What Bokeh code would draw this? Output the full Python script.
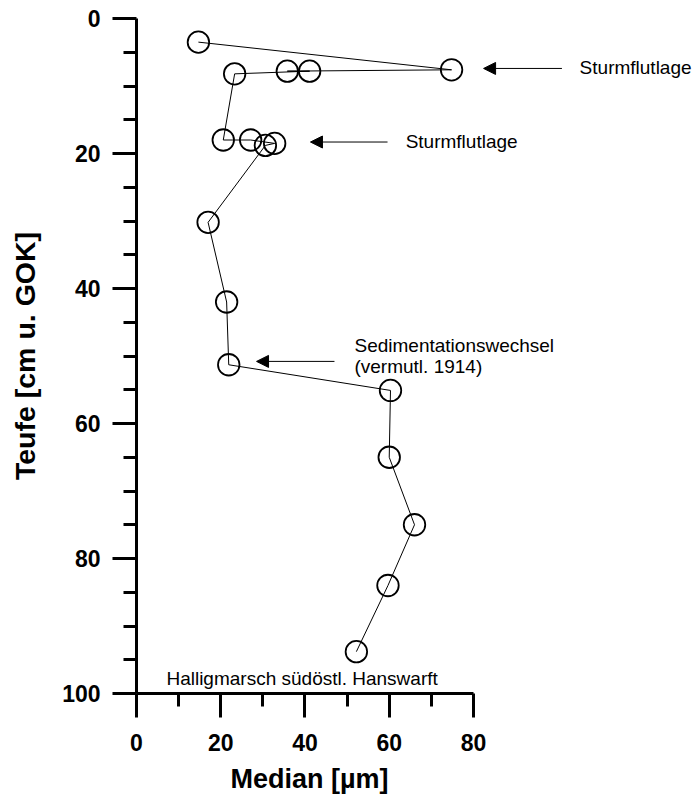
from bokeh.plotting import figure
from bokeh.models import (ColumnDataSource, Range1d, FixedTicker, Arrow, NormalHead, AllLabels)
from bokeh.core.properties import value
from bokeh.embed import file_html
from bokeh.resources import INLINE

# Data
median_um = [14.7, 74.8, 35.8, 41.1, 23.3, 20.6, 27.1, 32.8, 30.6, 17.0,
             21.4, 21.9, 60.3, 60.0, 66.0, 59.7, 52.2]
depth_cm = [3.5, 7.6, 7.8, 7.8, 8.2, 18.0, 18.0, 18.5, 18.8, 30.2,
            42.0, 51.3, 55.1, 65.0, 75.0, 84.0, 93.8]

x_ticks = [0, 20, 40, 60, 80]
x_minor = [10, 30, 50, 70]
y_ticks = [0, 20, 40, 60, 80, 100]
y_minor = [5, 10, 15, 25, 30, 35, 45, 50, 55, 65, 70, 75, 85, 90, 95]

x_title = "Median [µm]"
y_title = "Teufe [cm u. GOK]"

# annotations
ann_text = ["Sturmflutlage", "Sturmflutlage", "Sedimentationswechsel",
            "(vermutl. 1914)", "Halligmarsch südöstl. Hanswarft"]
ann_x = [105.2, 63.9, 51.75, 51.75, 7.1]
ann_y = [7.2, 18.2, 48.5, 51.6, 97.8]
arrow_tail_x = [101.0, 59.6, 47.0]
arrow_tip_x = [82.4, 41.3, 28.5]
arrow_y = [7.4, 18.3, 50.8]

FONT = "Liberation Sans"

p = figure(width=692, height=798, output_backend="svg", toolbar_location=None,
           x_range=Range1d(0, 132.0), y_range=Range1d(100, 0),
           min_border_left=136, min_border_right=0, min_border_top=18,
           min_border_bottom=105)
p.background_fill_color = "white"
p.border_fill_color = "white"
p.outline_line_color = None
p.xgrid.visible = False
p.ygrid.visible = False

src = ColumnDataSource(dict(x=median_um, y=depth_cm))
p.line("x", "y", source=src, line_color="black", line_width=1)
p.scatter("x", "y", source=src, marker="circle", size=21.5, fill_color=None,
          line_color="black", line_width=1.8)

for i in range(len(arrow_y)):
    p.add_layout(Arrow(end=NormalHead(size=12, line_color="black", fill_color="black",
                                      line_width=1),
                       x_start=arrow_tail_x[i], y_start=arrow_y[i],
                       x_end=arrow_tip_x[i], y_end=arrow_y[i],
                       line_color="black", line_width=1))

tsrc = ColumnDataSource(dict(x=ann_x, y=ann_y, t=ann_text))
p.text("x", "y", text="t", source=tsrc, text_font=value(FONT),
       text_font_size="19px", text_align="left", text_baseline="middle",
       text_color="black")

# X axis (the axis line spans 0-80; the frame continues to the right for the notes)
xa = p.xaxis[0]
xa.ticker = FixedTicker(ticks=x_ticks, minor_ticks=x_minor)
xa.bounds = (0, 80)
xa.major_label_policy = AllLabels()
# the axis title is centred on the whole frame; trailing no-break spaces move the
# visible words back under the 0-80 part of the axis
xa.axis_label = x_title + "\u00a0" * 28
xa.axis_label_text_font = FONT
xa.axis_label_text_font_style = "bold"
xa.axis_label_text_font_size = "27px"
xa.axis_label_text_color = "black"
xa.axis_label_standoff = 10
xa.major_label_text_font = FONT
xa.major_label_text_font_style = "bold"
xa.major_label_text_font_size = "23px"
xa.major_label_text_color = "black"
xa.major_label_standoff = 16
xa.axis_line_width = 3
xa.axis_line_color = "black"
xa.major_tick_line_width = 3
xa.minor_tick_line_width = 3
xa.major_tick_in = 0
xa.major_tick_out = 24
xa.minor_tick_in = 0
xa.minor_tick_out = 13

# Y axis
ya = p.yaxis[0]
ya.ticker = FixedTicker(ticks=y_ticks, minor_ticks=y_minor)
ya.bounds = (0, 100)
ya.major_label_policy = AllLabels()
ya.axis_label = y_title
ya.axis_label_text_font = FONT
ya.axis_label_text_font_style = "bold"
ya.axis_label_text_font_size = "28.5px"
ya.axis_label_text_color = "black"
ya.axis_label_standoff = 18
ya.major_label_text_font = FONT
ya.major_label_text_font_style = "bold"
ya.major_label_text_font_size = "23px"
ya.major_label_text_color = "black"
ya.major_label_standoff = 12
ya.axis_line_width = 3
ya.axis_line_color = "black"
ya.major_tick_line_width = 3
ya.minor_tick_line_width = 3
ya.major_tick_in = 0
ya.major_tick_out = 24
ya.minor_tick_in = 0
ya.minor_tick_out = 13

open("out.html", "w").write(file_html(p, INLINE))
